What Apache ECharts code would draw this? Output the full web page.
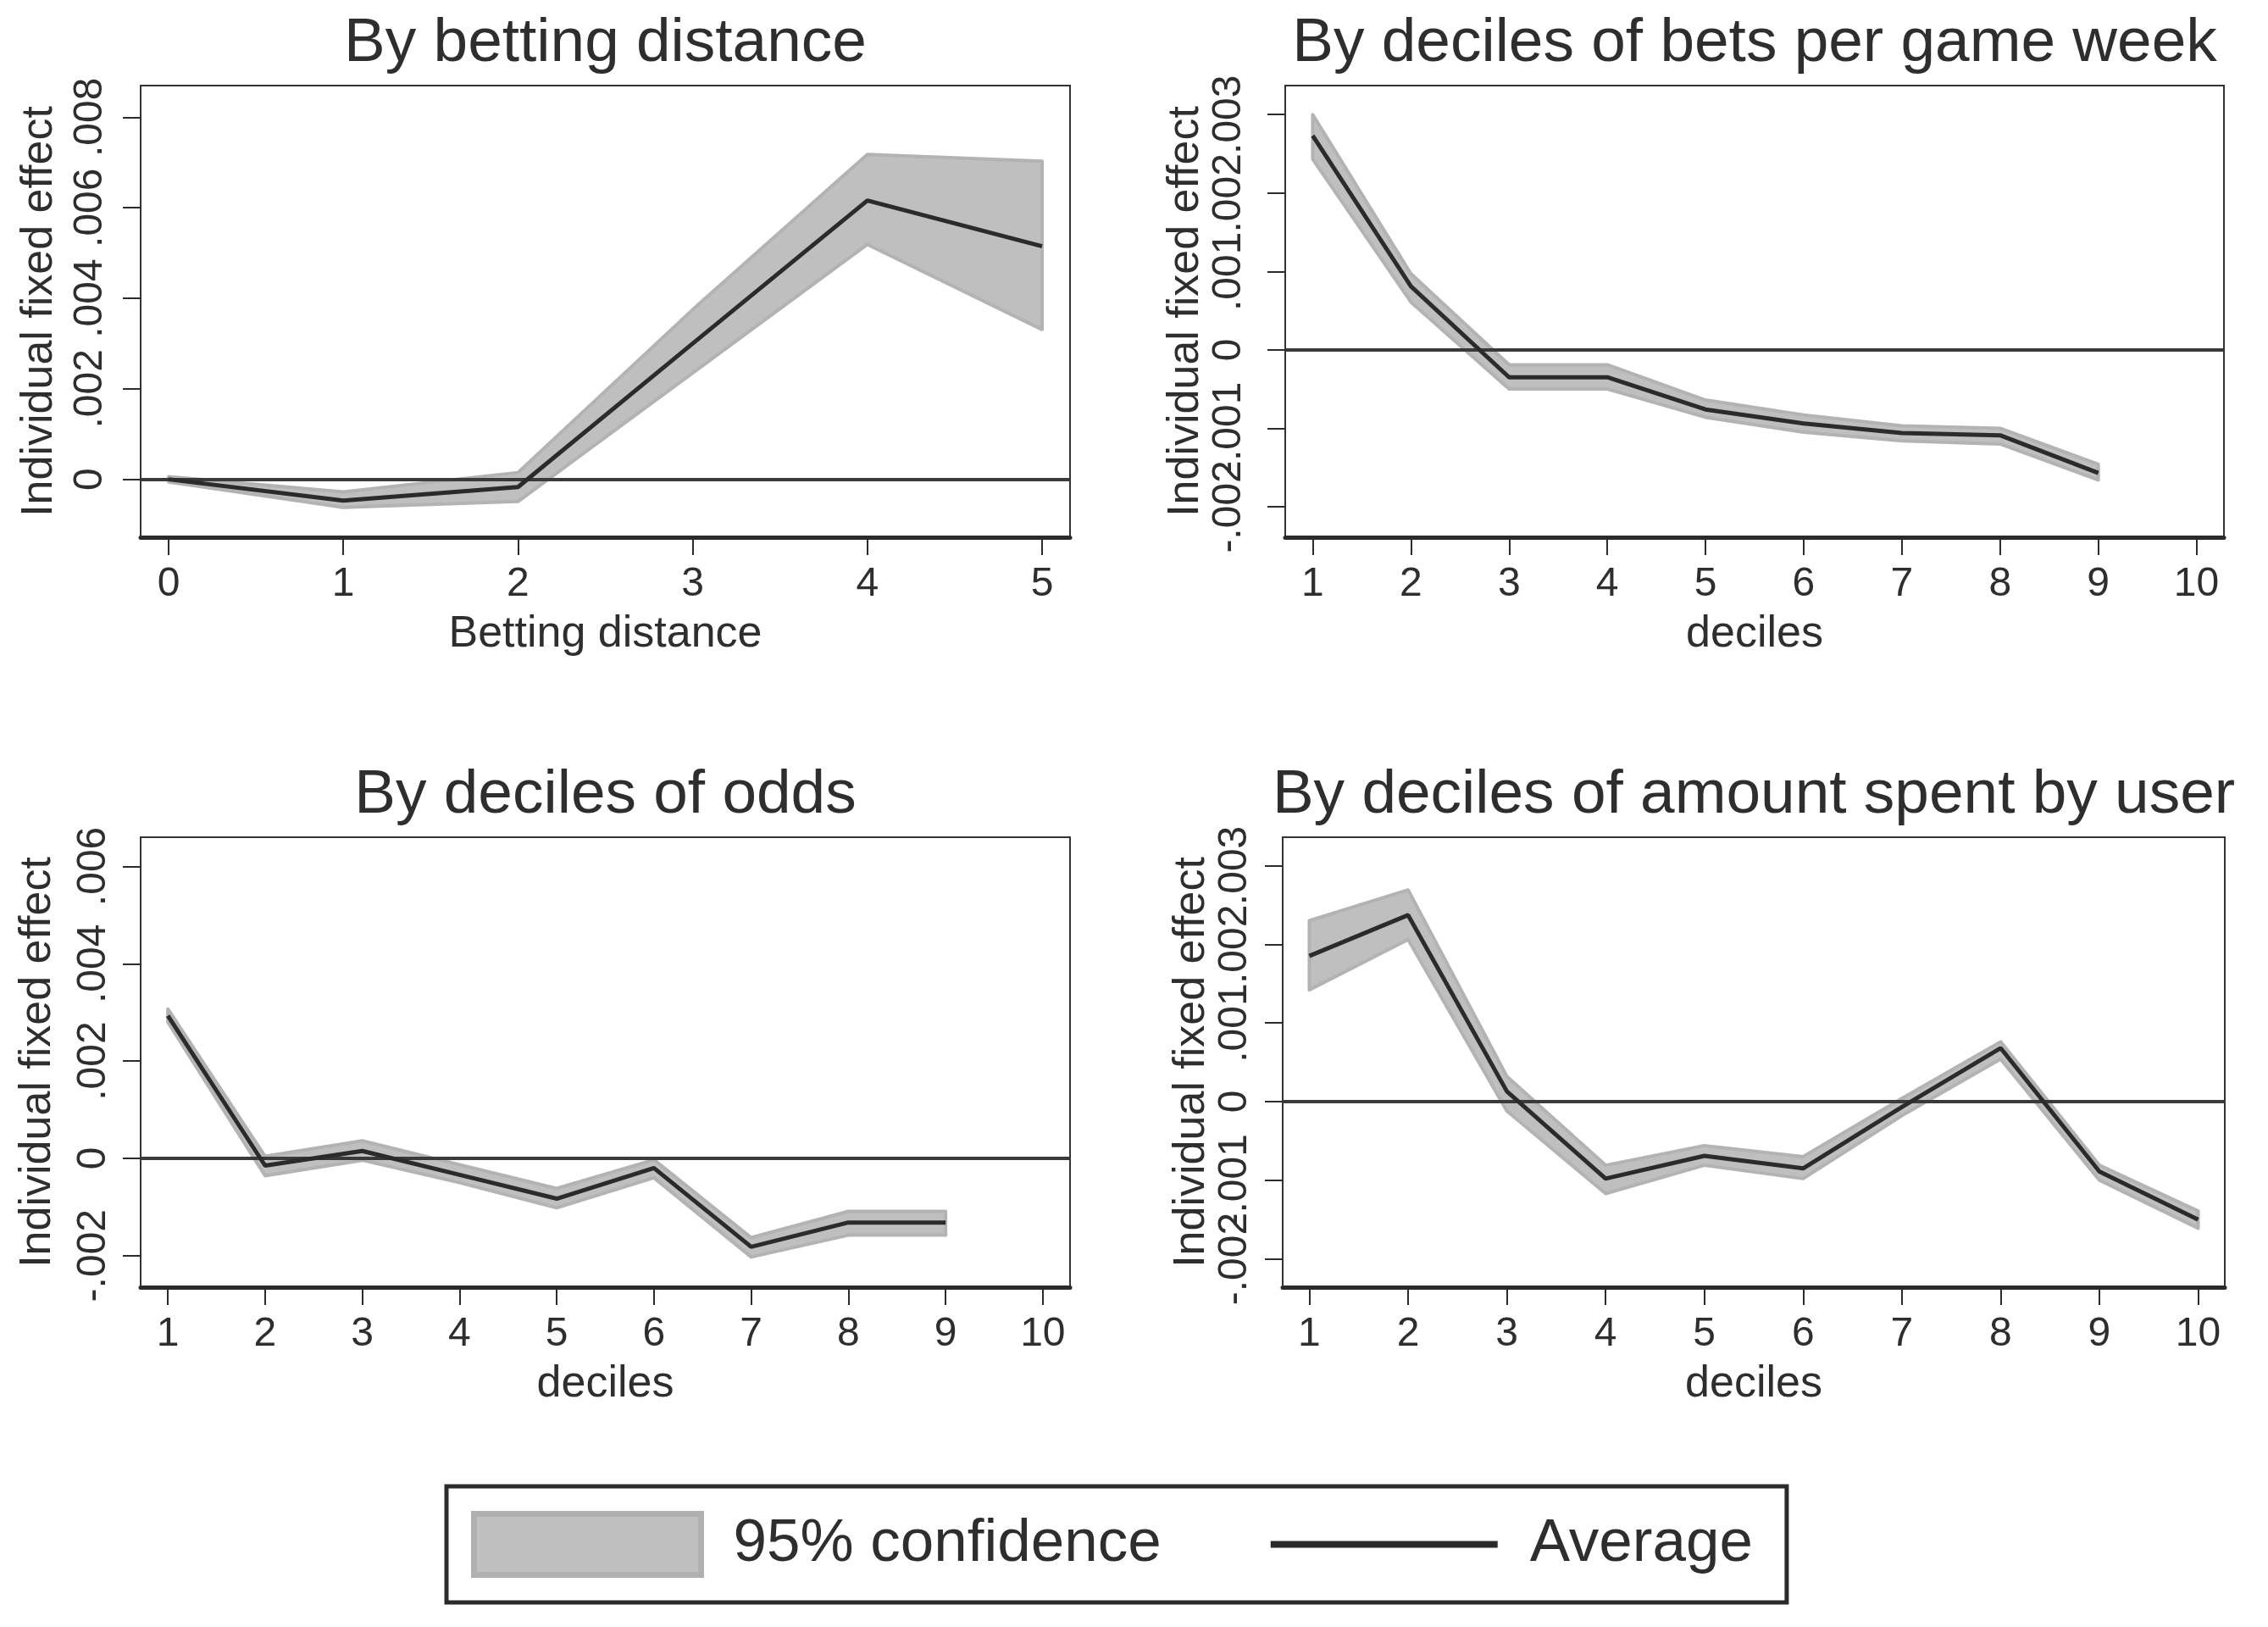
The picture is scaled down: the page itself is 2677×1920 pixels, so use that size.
<!DOCTYPE html>
<html>
<head>
<meta charset="utf-8">
<script src="https://cdn.jsdelivr.net/npm/echarts@6/dist/echarts.min.js"></script>
<style>
html,body{margin:0;padding:0;background:#fff;}
#chart{width:2677px;height:1920px;}
</style>
</head>
<body>
<div id="chart"></div>
<script>
// ---------- data ----------
// Panel 1: By betting distance
const p1X = [0, 1, 2, 3, 4, 5];
const p1Mean = [0, -0.00047, -0.00017, 0.0030, 0.00616, 0.00515];
const p1Lo = [-0.00006, -0.00062, -0.00049, 0.00235, 0.00519, 0.00331];
const p1Hi = [0.00006, -0.00028, 0.00015, 0.00375, 0.00718, 0.00703];

// Panel 2: By deciles of bets per game week
const p2X = [1, 2, 3, 4, 5, 6, 7, 8, 9];
const p2Mean = [0.00273, 0.00081, -0.00035, -0.00035, -0.00076, -0.00094, -0.00106, -0.00109, -0.00157];
const p2Lo = [0.00243, 0.00061, -0.00050, -0.00050, -0.00086, -0.00105, -0.00116, -0.00120, -0.00166];
const p2Hi = [0.00300, 0.00097, -0.00019, -0.00019, -0.00064, -0.00083, -0.00097, -0.00100, -0.00146];

// Panel 3: By deciles of odds
const p3X = [1, 2, 3, 4, 5, 6, 7, 8, 9];
const p3Mean = [0.00293, -0.00015, 0.00015, -0.00034, -0.00083, -0.00020, -0.00182, -0.00132, -0.00132];
const p3Lo = [0.00280, -0.00036, -0.00004, -0.00050, -0.00102, -0.00040, -0.00203, -0.00158, -0.00158];
const p3Hi = [0.00307, 0.00004, 0.00036, -0.00013, -0.00062, -0.00003, -0.00163, -0.00109, -0.00109];

// Panel 4: By deciles of amount spent by user
const p4X = [1, 2, 3, 4, 5, 6, 7, 8, 9, 10];
const p4Mean = [0.00185, 0.00237, 0.00013, -0.00098, -0.00069, -0.00085, -0.00007, 0.00068, -0.00089, -0.00150];
const p4Lo = [0.00142, 0.00206, -0.00012, -0.00117, -0.00081, -0.00098, -0.00018, 0.00054, -0.00100, -0.00161];
const p4Hi = [0.00230, 0.00269, 0.00032, -0.00081, -0.00056, -0.00070, 0.00004, 0.00076, -0.00081, -0.00139];

// tick values and labels
const distTicks = [0, 1, 2, 3, 4, 5];
const decileTicks = [1, 2, 3, 4, 5, 6, 7, 8, 9, 10];
const p1YTicks = [0, 0.002, 0.004, 0.006, 0.008];
const p1YLabels = ['0', '.002', '.004', '.006', '.008'];
const p2YTicks = [-0.002, -0.001, 0, 0.001, 0.002, 0.003];
const p2YLabels = ['-.002', '-.001', '0', '.001', '.002', '.003'];
const p3YTicks = [-0.002, 0, 0.002, 0.004, 0.006];
const p3YLabels = ['-.002', '0', '.002', '.004', '.006'];
const p4YTicks = p2YTicks;
const p4YLabels = p2YLabels;

const titles = ['By betting distance', 'By deciles of bets per game week', 'By deciles of odds', 'By deciles of amount spent by user'];
const xNames = ['Betting distance', 'deciles', 'deciles', 'deciles'];
const yName = 'Individual fixed effect';
const legendNames = ['95% confidence', 'Average'];

// ---------- layout ----------
const FONT = "'Liberation Sans', Arial, Helvetica, sans-serif";
const TXT = '#2e2e2e';
const panels = [
  {x: p1X, mean: p1Mean, lo: p1Lo, hi: p1Hi, xt: distTicks, yt: p1YTicks, yl: p1YLabels,
   xmin: -0.16, xmax: 5.16, ymin: -0.00128, ymax: 0.0087,
   grid: {left: 166, top: 101, width: 1097, height: 533}, yNameGap: 93, yLabMargin: 35, titleY: 52},
  {x: p2X, mean: p2Mean, lo: p2Lo, hi: p2Hi, xt: decileTicks, yt: p2YTicks, yl: p2YLabels,
   xmin: 0.72, xmax: 10.28, ymin: -0.00239, ymax: 0.00337,
   grid: {left: 1517, top: 101, width: 1108, height: 533}, yNameGap: 84, yLabMargin: 42, titleY: 52},
  {x: p3X, mean: p3Mean, lo: p3Lo, hi: p3Hi, xt: decileTicks, yt: p3YTicks, yl: p3YLabels,
   xmin: 0.72, xmax: 10.28, ymin: -0.00265, ymax: 0.0066,
   grid: {left: 166, top: 988, width: 1097, height: 531}, yNameGap: 95, yLabMargin: 31, titleY: 939},
  {x: p4X, mean: p4Mean, lo: p4Lo, hi: p4Hi, xt: decileTicks, yt: p4YTicks, yl: p4YLabels,
   xmin: 0.73, xmax: 10.27, ymin: -0.00236, ymax: 0.00336,
   grid: {left: 1514, top: 988, width: 1112, height: 531}, yNameGap: 81, yLabMargin: 32, titleY: 939}
];

const grids = [], xAxes = [], yAxes = [], series = [], graphics = [];

function labelFor(ticks, labels) {
  return v => { for (let k = 0; k < ticks.length; k++) { if (Math.abs(v - ticks[k]) < 1e-9) return labels[k]; } return ''; };
}

panels.forEach((p, i) => {
  grids.push(Object.assign({show: true, borderColor: '#333', borderWidth: 2, backgroundColor: 'transparent', containLabel: false}, p.grid));
  xAxes.push({
    gridIndex: i, type: 'value', min: p.xmin, max: p.xmax, position: 'bottom',
    name: xNames[i], nameLocation: 'middle', nameGap: 89,
    nameTextStyle: {fontSize: 52, fontFamily: FONT, color: TXT},
    axisLine: {show: true, onZero: false, lineStyle: {color: '#2b2b2b', width: 5}},
    axisTick: {show: true, customValues: p.xt, length: 21, lineStyle: {color: '#2b2b2b', width: 2}},
    axisLabel: {show: true, customValues: p.xt, fontSize: 48, fontFamily: FONT, color: TXT, margin: 32,
      showMinLabel: true, showMaxLabel: true, interval: 0, hideOverlap: false,
      formatter: v => String(Math.round(v))},
    splitLine: {show: false}
  });
  // Stata draws overlapping y labels; split ticks over two coincident axes so none is dropped
  const ytA = p.yt.filter((_, k) => k % 2 === 0);
  const ytB = p.yt.filter((_, k) => k % 2 === 1);
  const fmt = labelFor(p.yt, p.yl);
  [ytA, ytB].forEach((ticks, s) => {
    yAxes.push({
      gridIndex: i, type: 'value', min: p.ymin, max: p.ymax, position: 'left', offset: 0,
      name: s === 0 ? yName : '', nameLocation: 'middle', nameGap: p.yNameGap,
      nameTextStyle: {fontSize: 52, fontFamily: FONT, color: TXT},
      axisLine: {show: s === 0, onZero: false, lineStyle: {color: '#333', width: 2}},
      axisTick: {show: true, customValues: ticks, length: 21, lineStyle: {color: '#2b2b2b', width: 2}},
      axisLabel: {show: true, customValues: ticks, rotate: 90, fontSize: 48, fontFamily: FONT, color: TXT,
        margin: p.yLabMargin, showMinLabel: true, showMaxLabel: true, hideOverlap: false, formatter: fmt},
      splitLine: {show: false}
    });
  });
  const yIdx = 2 * i;
  series.push({
    type: 'custom', name: legendNames[0], xAxisIndex: i, yAxisIndex: yIdx,
    data: p.x.map((v, j) => [v, p.lo[j], p.hi[j]]),
    encode: {x: 0, y: [1, 2]},
    itemStyle: {color: '#bfbfbf'},
    z: 2, animation: false, silent: true,
    renderItem: function (params, api) {
      if (params.dataIndex !== 0) return null;
      const n = params.dataInsideLength;
      const top = [], bot = [];
      for (let k = 0; k < n; k++) {
        top.push(api.coord([api.value(0, k), api.value(2, k)]));
        bot.push(api.coord([api.value(0, k), api.value(1, k)]));
      }
      return {type: 'polygon', shape: {points: top.concat(bot.reverse())},
        style: {fill: '#bfbfbf', stroke: '#b3b3b3', lineWidth: 4, lineJoin: 'round'}};
    },
    markLine: {silent: true, symbol: ['none', 'none'], label: {show: false},
      lineStyle: {color: '#3a3a3a', width: 4, type: 'solid'}, emphasis: {disabled: true},
      data: [{yAxis: 0}], animation: false}
  });
  series.push({
    type: 'line', name: legendNames[1], xAxisIndex: i, yAxisIndex: yIdx,
    data: p.x.map((v, j) => [v, p.mean[j]]),
    symbol: 'none', showSymbol: false,
    lineStyle: {color: '#2b2b2b', width: 5},
    itemStyle: {color: '#2b2b2b'},
    z: 10, animation: false, silent: true
  });
  graphics.push({
    type: 'text', x: p.grid.left + p.grid.width / 2, y: p.titleY,
    style: {text: titles[i], font: '73px ' + FONT, fill: TXT, textAlign: 'center', textVerticalAlign: 'middle'}
  });
});

const chart = echarts.init(document.getElementById('chart'), null, {renderer: 'canvas'});
chart.setOption({
  backgroundColor: '#ffffff',
  animation: false,
  grid: grids,
  xAxis: xAxes,
  yAxis: yAxes,
  series: series,
  graphic: graphics,
  legend: {
    left: 527, top: 1754, orient: 'horizontal', selectedMode: false,
    borderColor: '#2b2b2b', borderWidth: 5, padding: [29, 40, 29, 29],
    itemWidth: 268, itemHeight: 72, itemGap: 129,
    textStyle: {fontSize: 71, fontFamily: FONT, color: TXT, padding: [0, 0, 0, 33]},
    data: [
      {name: legendNames[0], icon: 'rect', itemStyle: {color: '#c0c0c0', borderColor: '#b0b0b0', borderWidth: 7}},
      {name: legendNames[1], icon: 'path://M0,0L100,0L100,3L0,3Z', itemStyle: {color: '#2b2b2b', borderWidth: 0}}
    ]
  }
});
</script>
</body>
</html>
